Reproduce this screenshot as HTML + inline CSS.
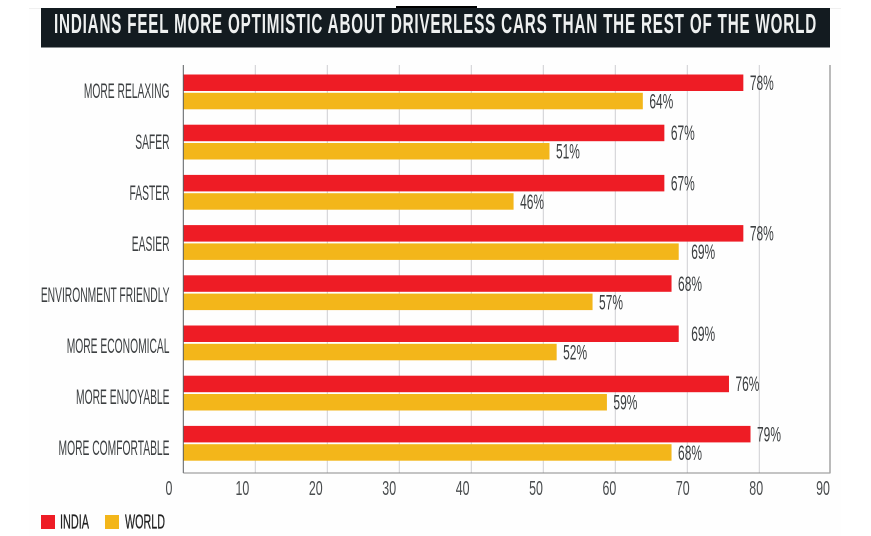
<!DOCTYPE html>
<html lang="en">
<head>
<meta charset="utf-8">
<title>Indians feel more optimistic about driverless cars</title>
<style>
html,body{margin:0;padding:0;background:#fff;}
body{width:871px;height:536px;overflow:hidden;}
svg{display:block;font-family:"Liberation Sans",sans-serif;}
</style>
</head>
<body>
<svg id="chart" width="871" height="536" viewBox="0 0 871 536" xmlns="http://www.w3.org/2000/svg">
  <rect x="0" y="0" width="871" height="536" fill="#fff"/>
  <rect x="29" y="8" width="812" height="528" fill="#fefefe"/>
  <line x1="29" x2="841" y1="8.5" y2="8.5" stroke="#f0f0f0"/>
  <rect x="396" y="6" width="81" height="3" fill="#000"/>
  <rect x="41" y="8" width="789" height="39.5" fill="#131b20"/>
  <text x="54" y="33" font-family="Liberation Sans" font-size="28" font-weight="700" letter-spacing="1.5" fill="#eef0f0" textLength="763" lengthAdjust="spacingAndGlyphs">INDIANS FEEL MORE OPTIMISTIC ABOUT DRIVERLESS CARS THAN THE REST OF THE WORLD</text>
  <g id="grid"></g>
  <g id="bars"></g>
  <g id="axes"></g>
  <g id="labels"></g>
  <g>
    <rect x="41" y="515" width="14" height="14" fill="#ee1c25"/>
    <text x="60" y="528.3" font-family="Liberation Sans" font-size="20" stroke="#222" stroke-width="0.3" fill="#222" textLength="29" lengthAdjust="spacingAndGlyphs">INDIA</text>
    <rect x="105" y="515" width="14" height="14" fill="#f3b61a"/>
    <text x="125" y="528.3" font-family="Liberation Sans" font-size="20" stroke="#222" stroke-width="0.3" fill="#222" textLength="40" lengthAdjust="spacingAndGlyphs">WORLD</text>
  </g>
</svg>
<script>
var categories = ["MORE RELAXING","SAFER","FASTER","EASIER","ENVIRONMENT FRIENDLY","MORE ECONOMICAL","MORE ENJOYABLE","MORE COMFORTABLE"];
var indiaValues = [78,67,67,78,68,69,76,79];
var worldValues = [64,51,46,69,57,52,59,68];
var tickValues = [0,10,20,30,40,50,60,70,80,90];

var SVG_NS = "http://www.w3.org/2000/svg";
var plotLeft = 183.3, plotTop = 65, plotBottom = 473, pxPerUnit = 7.18;
var firstRowTop = 74.5, rowStep = 50.2, barHeight = 16.5, barGap = 1.8;
var textColor = "#3c3f41";

function xScale(v){ return plotLeft + v * pxPerUnit; }
function gridX(v){ return plotLeft + v * 7.2; }
function rowTop(i){ return firstRowTop + i * rowStep; }
function categoryBaseline(i){ return 98 + i * 51; }
function tickLabelX(v){ return Math.min(169 + v * 7.34, 823); }
function valueGap(v){ return v === 69 ? 12.5 : 6.5; }

function make(tag, attrs){
  var el = document.createElementNS(SVG_NS, tag);
  for (var k in attrs) el.setAttribute(k, attrs[k]);
  return el;
}
function narrowText(str, x, y, anchor, size, parent, scale, color){
  var el = make("text", {"text-anchor":anchor, "font-size":size, "fill":color || textColor, "font-family":"Liberation Sans",
    "transform":"translate(" + x + " " + y + ") scale(" + scale + " 1)"});
  el.textContent = str;
  parent.appendChild(el);
  return el;
}

var gridG = document.getElementById("grid");
var barsG = document.getElementById("bars");
var axesG = document.getElementById("axes");
var labelsG = document.getElementById("labels");

tickValues.forEach(function(t){
  if (t > 0 && t < 90) {
    var line = make("line", {x1:gridX(t), x2:gridX(t), y1:plotTop, y2:plotBottom, stroke:"#cfcfd2", "stroke-width":1});
    
    
    gridG.appendChild(line);
  }
  var tick = narrowText(String(t), tickLabelX(t), 495, "middle", 20, labelsG, 0.62, "#4a4d4f");
  
  
});

categories.forEach(function(name, i){
  var top = rowTop(i);
  var redBar = make("rect", {x:plotLeft, y:top, width:xScale(indiaValues[i]) - plotLeft, height:barHeight, fill:"#ee1c25"});
  
  
  barsG.appendChild(redBar);

  var worldTop = top + barHeight + barGap;
  var yellowBar = make("rect", {x:plotLeft, y:worldTop, width:xScale(worldValues[i]) - plotLeft, height:barHeight, fill:"#f3b61a"});
  
  
  barsG.appendChild(yellowBar);

  var cat = narrowText(name, 169.5, categoryBaseline(i), "end", 21, labelsG, 0.49);
  
  

  var v1 = narrowText(indiaValues[i] + "%", xScale(indiaValues[i]) + valueGap(indiaValues[i]), top + 15.5, "start", 21, labelsG, 0.57);
  
  

  var v2 = narrowText(worldValues[i] + "%", xScale(worldValues[i]) + valueGap(worldValues[i]), worldTop + 15.7, "start", 21, labelsG, 0.57);
  
  
});

var yAxis = make("line", {x1:plotLeft, x2:plotLeft, y1:plotTop, y2:plotBottom, stroke:"#5a5d60", "stroke-width":1});


axesG.appendChild(yAxis);

var xAxis = make("line", {x1:plotLeft, x2:830.5, y1:plotBottom, y2:plotBottom, stroke:"#8a8a8a", "stroke-width":1});


axesG.appendChild(xAxis);

var rightAxis = make("line", {x1:830, x2:830, y1:plotTop, y2:plotBottom, stroke:"#a3a3a3", "stroke-width":1.5});


axesG.appendChild(rightAxis);
</script>
</body>
</html>
